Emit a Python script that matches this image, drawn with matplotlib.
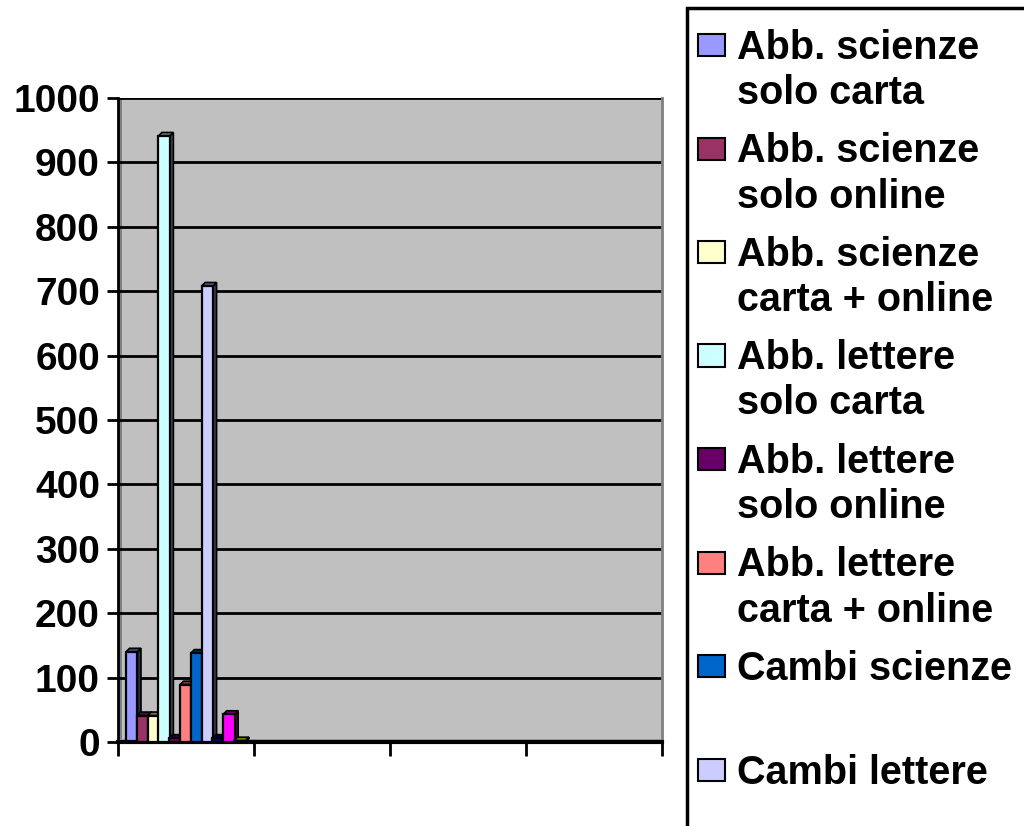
import matplotlib
matplotlib.use("Agg")
from matplotlib import pyplot as plt
from matplotlib.patches import Rectangle, Polygon
import numpy as np

plt.rcParams['font.family'] = ['Liberation Sans', 'DejaVu Sans']
plt.rcParams['font.weight'] = 'bold'

# data (only the first category holds values)
series_values = [140, 41, 41, 941, 6, 89, 138, 708, 6, 43, 2]
series_colors = ['#9999FF', '#993366', '#FFFFCC', '#CCFFFF', '#660066', '#FF8080',
                 '#0066CC', '#CCCCFF', '#000080', '#FF00FF', '#FFFF00']
legend_labels = [
    ("Abb. scienze", "solo carta"),
    ("Abb. scienze", "solo online"),
    ("Abb. scienze", "carta + online"),
    ("Abb. lettere", "solo carta"),
    ("Abb. lettere", "solo online"),
    ("Abb. lettere", "carta + online"),
    ("Cambi scienze", ""),
    ("Cambi lettere", ""),
]
n_categories = 4
y_ticks = list(range(0, 1001, 100))

W, H = 1024, 826
fig = plt.figure(figsize=(W / 100, H / 100), dpi=100)
fig.patch.set_facecolor('white')


def fx(px):
    return px / W


def fy(py):
    return 1 - py / H


ax = fig.add_axes([fx(118), fy(742), fx(662) - fx(118), fy(98) - fy(742)])
ax.set_facecolor('#C0C0C0')
ax.set_xlim(0, n_categories)
ax.set_ylim(0, 1000)

# 3d-ish wall: darker left side and floor strip
ax.add_patch(Rectangle((0, 0), 0.03, 1000, facecolor='#808080', edgecolor='none',
                       zorder=0.5))
ax.add_patch(Rectangle((0, 0), n_categories, 5, facecolor='#A0A0A0', edgecolor='none',
                       zorder=0.5))

for yv in y_ticks[1:]:
    ax.axhline(yv, color='black', lw=2, zorder=1)

# bars with a small depth effect
step = 0.0794
face_w = 0.084
x0 = 0.059
dx, dy = 0.026, 5.5
for i, (v, c) in enumerate(zip(series_values, series_colors)):
    left = x0 + i * step
    rgb = np.array(matplotlib.colors.to_rgb(c))
    side = Polygon([(left + face_w, 0), (left + face_w + dx, dy),
                    (left + face_w + dx, v + dy), (left + face_w, v)],
                   closed=True, facecolor=rgb * 0.3, edgecolor='black', lw=1.2,
                   zorder=2 + i)
    top = Polygon([(left, v), (left + dx, v + dy), (left + face_w + dx, v + dy),
                   (left + face_w, v)],
                  closed=True, facecolor=rgb * 0.45, edgecolor='black', lw=1.2,
                  zorder=2 + i)
    ax.add_patch(side)
    ax.add_patch(top)
    ax.bar(left, v, width=face_w, align='edge', color=c, edgecolor='black', lw=1.6,
           zorder=2 + i)

ax.set_yticks(y_ticks)
ax.set_yticklabels([str(t) for t in y_ticks], fontsize=28, fontweight='bold')
ax.set_xticks(range(n_categories + 1))
ax.set_xticklabels([])
ax.tick_params(axis='y', length=8, width=2, pad=5, direction='out')
ax.tick_params(axis='x', length=10, width=2, direction='out')
ax.spines['top'].set_visible(False)
ax.spines['right'].set_color('#808080')
ax.spines['right'].set_linewidth(2)
ax.spines['left'].set_linewidth(2)
ax.spines['bottom'].set_linewidth(3)

# legend box (runs off the figure like the original)
fig.add_artist(Rectangle((fx(687), fy(836)), fx(1040) - fx(687), fy(8) - fy(836),
                         transform=fig.transFigure, facecolor='white',
                         edgecolor='black', lw=2.5))
for k, (l1, l2) in enumerate(legend_labels):
    yc = 45 + 103.5 * k
    fig.add_artist(Rectangle((fx(698), fy(yc + 11)), fx(725) - fx(698),
                             fy(yc - 11) - fy(yc + 11), transform=fig.transFigure,
                             facecolor=series_colors[k], edgecolor='black', lw=1.5))
    fig.text(fx(737), fy(yc + 14), l1, fontsize=28.5, fontweight='bold',
             va='baseline', ha='left')
    if l2:
        fig.text(fx(737), fy(yc + 59), l2, fontsize=28.5, fontweight='bold',
                 va='baseline', ha='left')

fig.savefig('out.png', dpi=100)
